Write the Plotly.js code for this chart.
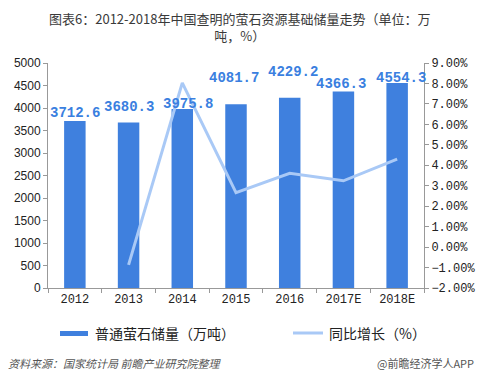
<!DOCTYPE html>
<html><head><meta charset="utf-8">
<script src="https://cdn.plot.ly/plotly-3.0.1.min.js"></script>
<style>body{margin:0;background:#fff}#c{width:480px;height:381px}</style>
</head><body><div id="c"></div>
<script>
const categories = ['2012','2013','2014','2015','2016','2017E','2018E'];
const reserves = [3712.6, 3680.3, 3975.8, 4081.7, 4229.2, 4366.3, 4554.3];
const growthCats = ['2013','2014','2015','2016','2017E','2018E'];
const growth = [-0.87, 8.03, 2.66, 3.61, 3.24, 4.30];
const barName = '普通萤石储量（万吨）';
const lineName = '同比增长（%）';
// label placement offsets (px) as in the reference
const labelYShift = [8, 15, 5, 26, 26, 8, 5];
const labelXShift = [0, 0, 6, -2, 3, -2, 4];

const cjk = '"Noto Sans CJK SC", "Noto Sans", sans-serif';
const mono = '"Liberation Mono", "DejaVu Sans Mono", monospace';
const py = Y => (288 - Y) / 225;   // pixel row -> paper y
const px = X => (X - 48) / 376;    // pixel col -> paper x

const traces = [
  {type:'bar', x:categories, y:reserves, name:barName, width:0.4,
   marker:{color:'#3f80de'}},
  {type:'scatter', mode:'lines', x:growthCats, y:growth, yaxis:'y2', name:lineName,
   line:{color:'#a9c9f6', width:3}}
];

const labelAnns = categories.map((c,i)=>({
  x:i, y:reserves[i], xref:'x', yref:'y', yanchor:'middle', xanchor:'center',
  yshift:labelYShift[i], xshift:labelXShift[i], showarrow:false,
  text:'<b>'+reserves[i].toFixed(1)+'</b>',
  font:{family:mono, size:14, color:'#3a7fe0'}
}));

const layout = {
  width:480, height:381, paper_bgcolor:'#fff', plot_bgcolor:'#fff',
  margin:{l:48, r:56, t:63, b:93},
  showlegend:false,
  xaxis:{type:'category', categoryorder:'array', categoryarray:categories, range:[-0.5, categories.length-0.5],
         showline:true, linecolor:'#999', linewidth:1,
         ticks:'outside', tickson:'boundaries', ticklen:4, tickcolor:'#999',
         tickfont:{family:mono, size:12, color:'#222'}, showgrid:false, zeroline:false},
  yaxis:{range:[0,5000], dtick:500, showline:true, linecolor:'#999', linewidth:1,
         ticks:'outside', ticklen:4, tickcolor:'#999', showgrid:false, zeroline:false,
         tickfont:{family:'"Liberation Sans", Arial, sans-serif', size:12, color:'#222'}},
  yaxis2:{overlaying:'y', side:'right', range:[-2,9], dtick:1, tickformat:'.2f', ticksuffix:'%',
          showline:true, linecolor:'#999', linewidth:1, ticks:'outside', ticklen:4, tickcolor:'#999',
          showgrid:false, zeroline:false,
          tickfont:{family:mono, size:12, color:'#222'}},
  shapes:[
    {type:'rect', xref:'paper', yref:'paper', x0:px(60), x1:px(88),
     y0:py(336), y1:py(331), fillcolor:'#3f80de', line:{width:0}},
    {type:'line', xref:'paper', yref:'paper', x0:px(293), x1:px(323),
     y0:py(333), y1:py(333), line:{color:'#a9c9f6', width:3}}
  ],
  annotations:[
    {xref:'paper', yref:'paper', x:px(240), y:py(27), xanchor:'center', yanchor:'middle',
     text:'图表6：2012-2018年中国查明的萤石资源基础储量走势（单位：万<br>吨，%）', showarrow:false,
     font:{family:cjk, size:13, color:'#3a3a3a'}},
    {xref:'paper', yref:'paper', x:px(93), y:py(333), xanchor:'left', yanchor:'middle',
     text:barName, showarrow:false, font:{family:cjk, size:14, color:'#222'}},
    {xref:'paper', yref:'paper', x:px(327), y:py(333), xanchor:'left', yanchor:'middle',
     text:lineName, showarrow:false, font:{family:cjk, size:14, color:'#222'}},
    {xref:'paper', yref:'paper', x:px(6), y:py(363), xanchor:'left', yanchor:'middle',
     text:'<i>资料来源：国家统计局 前瞻产业研究院整理</i>', showarrow:false, font:{family:cjk, size:11, color:'#555'}},
    {xref:'paper', yref:'paper', x:px(476), y:py(363), xanchor:'right', yanchor:'middle',
     text:'@前瞻经济学人APP', showarrow:false, font:{family:cjk, size:11, color:'#555'}}
  ].concat(labelAnns)
};
Plotly.newPlot('c', traces, layout, {displayModeBar:false, staticPlot:true});
</script></body></html>
